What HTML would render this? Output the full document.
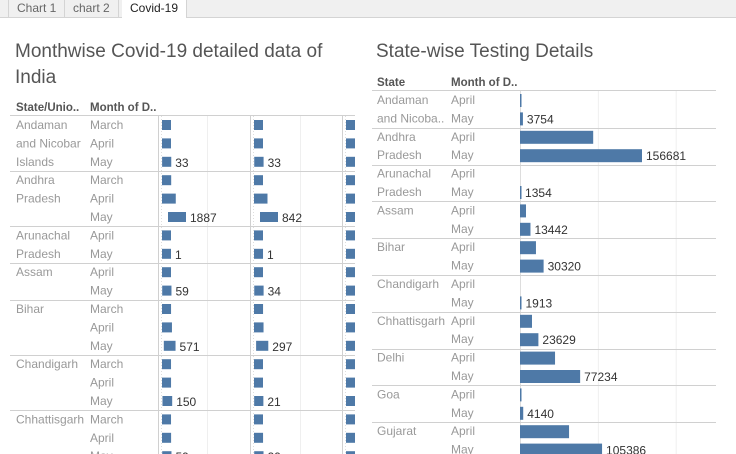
<!DOCTYPE html>
<html><head><meta charset="utf-8">
<style>
body{margin:0;width:736px;height:454px;overflow:hidden;background:#fff;font-family:"Liberation Sans",sans-serif;position:relative}
.t{position:absolute;white-space:nowrap}
</style></head><body>
<div style="position:absolute;left:0;top:0;width:736px;height:17px;background:#f0f0f0;border-bottom:1px solid #d4d4d4"></div>
<div class="t" style="left:8px;top:0;height:17px;padding:0 8px;border-right:1px solid #d4d4d4;border-left:1px solid #d4d4d4;font-size:12px;line-height:17px;color:#666">Chart 1</div>
<div class="t" style="left:65px;top:0;height:17px;padding:0 8px;border-right:1px solid #d4d4d4;font-size:12px;line-height:17px;color:#666">chart 2</div>
<div class="t" style="left:122px;top:0;height:18px;padding:0 8px;background:#fff;border-right:1px solid #d4d4d4;font-size:12px;line-height:17px;color:#222">Covid-19</div>
<div class="t" style="left:15px;top:39px;font-size:19px;line-height:26px;color:#555;white-space:normal;width:340px">Monthwise Covid-19 detailed data of India</div>
<div class="t" style="left:376px;top:39px;font-size:19px;line-height:26px;color:#555">State-wise Testing Details</div>
<svg id="s" width="736" height="454" style="position:absolute;left:0;top:0"></svg>
<script>
// Left chart data
const leftStates=["Andaman and Nicobar Islands","Andhra Pradesh","Arunachal Pradesh","Assam","Bihar","Chandigarh","Chhattisgarh"];
const leftStateLines=[["Andaman","and Nicobar","Islands"],["Andhra","Pradesh"],["Arunachal","Pradesh"],["Assam"],["Bihar"],["Chandigarh"],["Chhattisgarh"]];
const leftMonths=[["March","April","May"],["March","April","May"],["April","May"],["April","May"],["March","April","May"],["March","April","May"],["March","April","May"]];
const confirmed=[[0,0,33],[40,1000,1887],[0,1],[0,59],[10,200,571],[5,10,150],[5,20,59]];
const recovered=[[0,0,33],[0,420,842],[0,1],[0,34],[5,50,297],[0,0,21],[0,5,29]];
const deaths=[[0,0,0],[0,20,40],[0,0],[0,1],[0,2,5],[0,0,0],[0,0,0]];
const maxD=[1887,842,60];
// Right chart data
const rightStates=["Andaman and Nicoba..","Andhra Pradesh","Arunachal Pradesh","Assam","Bihar","Chandigarh","Chhattisgarh","Delhi","Goa","Gujarat"];
const rightStateLines=[["Andaman","and Nicoba.."],["Andhra","Pradesh"],["Arunachal","Pradesh"],["Assam"],["Bihar"],["Chandigarh"],["Chhattisgarh"],["Delhi"],["Goa"],["Gujarat"]];
const testsApril=[1200,94000,0,7700,20500,0,15400,45000,1500,63000];
const testsMay=[3754,156681,1354,13442,30320,1913,23629,77234,4140,105386];
const rightTicks=[0,100000,200000];

const s=document.getElementById('s');const NS='http://www.w3.org/2000/svg';
function el(tag,a,name,txt){const e=document.createElementNS(NS,tag);for(const k in a)e.setAttribute(k,a[k]);


if(txt!==undefined)e.textContent=txt;s.appendChild(e);return e;}
const F='Liberation Sans, sans-serif';
const LF=12;
// LEFT
el('text',{x:16,y:111,'font-size':11.5,'font-weight':'bold',fill:'#555','font-family':F},'left-header-state','State/Unio..');
el('text',{x:90,y:111,'font-size':11.5,'font-weight':'bold',fill:'#555','font-family':F},'left-header-month','Month of D..');
el('line',{x1:10,x2:355,y1:115.5,y2:115.5,stroke:'#d0d0d0'},'left-header-line');
const RH=18.4, top0=116;
const panelX=[162,254,346];
const series=[confirmed,recovered,deaths];
[158,250,342].forEach((x,i)=>el('line',{x1:x+.5,x2:x+.5,y1:116,y2:454,stroke:'#d0d0d0'},'left-panel-divider'));
[207,300].forEach(x=>el('line',{x1:x+.5,x2:x+.5,y1:116,y2:454,stroke:'#efefef'},'left-gridline'));
panelX.forEach(x=>el('line',{x1:x-0.5,x2:x-0.5,y1:116,y2:454,stroke:'#ddd','stroke-dasharray':'1,2'},'left-zero-line'));
let y=top0;
leftStates.forEach((st,i)=>{
  leftStateLines[i].forEach((ln,j)=>el('text',{x:16,y:y+13+j*RH,'font-size':LF,fill:'#999','font-family':F},'left-state-label',ln));
  leftMonths[i].forEach((m,j)=>{
    const cy=y+j*RH;
    el('text',{x:90,y:cy+13,'font-size':LF,fill:'#999','font-family':F},'left-month-label',m);
    series.forEach((ser,p)=>{
      const v=ser[i][j];const w=Math.min(9+v/maxD[p]*9, p==2?9:60);
      const off=p==2?0:(j==leftMonths[i].length-1? v/maxD[p]*6:0);
      el('rect',{x:panelX[p]+off,y:cy+4,width:w,height:10,fill:'#4e79a7'},'left-bar');
      if(j==leftMonths[i].length-1&&p<2)el('text',{x:panelX[p]+off+w+4,y:cy+14,'font-size':LF,fill:'#333','font-family':F},'left-value-label',String(v));
    });
  });
  y+=leftMonths[i].length*RH;
  el('line',{x1:10,x2:355,y1:Math.round(y)+.5,y2:Math.round(y)+.5,stroke:'#d0d0d0'},'left-row-separator');
});
// RIGHT
el('text',{x:377,y:86,'font-size':11.5,'font-weight':'bold',fill:'#555','font-family':F},'right-header-state','State');
el('text',{x:451,y:86,'font-size':11.5,'font-weight':'bold',fill:'#555','font-family':F},'right-header-month','Month of D..');
el('line',{x1:372,x2:716,y1:90.5,y2:90.5,stroke:'#d0d0d0'},'right-header-line');
const x0=520,kx=122/156681;
const xs=v=>x0+v*kx;
rightTicks.forEach(t=>el('line',{x1:xs(t)+.5,x2:xs(t)+.5,y1:91,y2:454,stroke:t?'#efefef':'#ddd'},'right-gridline'));
let ry=91;
rightStates.forEach((st,i)=>{
  rightStateLines[i].forEach((ln,j)=>el('text',{x:377,y:ry+13+j*RH,'font-size':LF,fill:'#999','font-family':F},'right-state-label',ln));
  ['April','May'].forEach((m,j)=>{
    const cy=ry+j*RH;const v=j?testsMay[i]:testsApril[i];
    el('text',{x:451,y:cy+13,'font-size':LF,fill:'#999','font-family':F},'right-month-label',m);
    if(v>0)el('rect',{x:x0,y:cy+3,width:Math.max(1.5,xs(v)-x0),height:13,fill:'#4e79a7'},'right-bar');
    if(j)el('text',{x:xs(v)+4,y:cy+14,'font-size':LF,fill:'#333','font-family':F},'right-value-label',String(v));
  });
  ry+=2*RH;
  el('line',{x1:372,x2:716,y1:Math.round(ry)+.5,y2:Math.round(ry)+.5,stroke:'#d0d0d0'},'right-row-separator');
});
</script>
</body></html>
